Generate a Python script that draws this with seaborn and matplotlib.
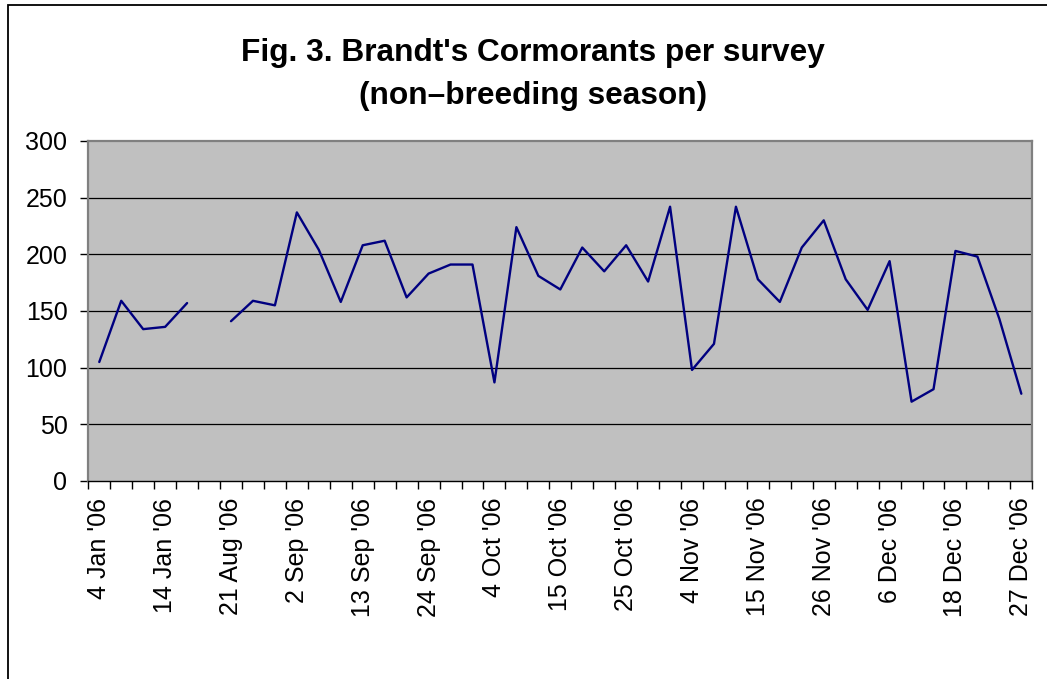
import numpy as np
import pandas as pd
import matplotlib
matplotlib.use("Agg")
import matplotlib.pyplot as plt
from matplotlib.patches import Rectangle
import seaborn as sns

# Brandt's Cormorant counts, one per survey (None = no survey data)
counts = [105, 159, 134, 136, 157, None, 141, 159, 155, 237, 204, 158, 208,
          212, 162, 183, 191, 191, 87, 224, 181, 169, 206, 185, 208, 176,
          242, 98, 121, 242, 178, 158, 206, 230, 178, 151, 194, 70, 81,
          203, 198, 143, 77]

# Survey dates labelled on the category axis (every third survey)
tick_labels = ["4 Jan '06", "14 Jan '06", "21 Aug '06", "2 Sep '06",
               "13 Sep '06", "24 Sep '06", "4 Oct '06", "15 Oct '06",
               "25 Oct '06", "4 Nov '06", "15 Nov '06", "26 Nov '06",
               "6 Dec '06", "18 Dec '06", "27 Dec '06"]
label_step = 3

y_ticks = [0, 50, 100, 150, 200, 250, 300]

sns.set_style("white")
plt.rcParams["font.family"] = ["Liberation Sans", "DejaVu Sans"]
plt.rcParams["text.color"] = "black"
plt.rcParams["xtick.color"] = "black"
plt.rcParams["ytick.color"] = "black"
plt.rcParams["xtick.labelcolor"] = "black"
plt.rcParams["ytick.labelcolor"] = "black"

W, H = 1047, 679
fig = plt.figure(figsize=(W / 100, H / 100), dpi=100)
fig.patch.set_facecolor("white")

# outer chart frame
fig.add_artist(Rectangle((7.5 / W, -0.1), 1.2, 1 - 5.0 / H + 0.1,
                         transform=fig.transFigure, fill=False,
                         edgecolor="black", linewidth=1.3, zorder=0))

x0, x1 = 88.3, 1032.3
y_top, y_bot = 141.0, 481.0
ax = fig.add_axes([x0 / W, (H - y_bot) / H, (x1 - x0) / W, (y_bot - y_top) / H])
ax.set_facecolor("#C0C0C0")

df = pd.DataFrame({"survey": np.arange(len(counts)),
                   "count": pd.array(counts, dtype="Float64").astype(float)})
# break the line where a survey is missing
df["segment"] = df["count"].isna().cumsum()
df = df.dropna()

sns.lineplot(data=df, x="survey", y="count", units="segment", estimator=None,
             color="#000080", linewidth=1.7, ax=ax, legend=False, zorder=3)

ax.set_xlim(-0.5, len(counts) - 0.5)
ax.set_ylim(0, 300)

# y axis
ax.set_yticks(y_ticks)
ax.set_yticklabels([str(v) for v in y_ticks])
for v in y_ticks[1:-1]:
    ax.axhline(v, color="black", linewidth=0.9, zorder=1)

# category axis: tick marks at boundaries, labels at every third centre
ax.set_xticks(np.arange(-0.5, len(counts), 1.0), minor=True)
ax.set_xticks(np.arange(0, len(counts), label_step))
ax.set_xticklabels(tick_labels, rotation=90)

ax.tick_params(axis="y", which="major", direction="out", length=6,
               width=1, color="black", pad=9.0, labelsize=18, left=True)
ax.tick_params(axis="x", which="major", length=0, pad=12.0, labelsize=18,
               bottom=True)
ax.tick_params(axis="x", which="minor", direction="out", length=5.5,
               width=1, color="black", bottom=True)

ax.set_xlabel("")
ax.set_ylabel("")

for side in ("top", "right", "left"):
    ax.spines[side].set_color("#808080")
    ax.spines[side].set_linewidth(1.6)
ax.spines["bottom"].set_color("black")
ax.spines["bottom"].set_linewidth(1.0)

fig.text(533 / W, 1 - 53 / H, "Fig. 3. Brandt's Cormorants per survey",
         ha="center", va="center", fontsize=22.8, fontweight="bold",
         color="black")
fig.text(533 / W, 1 - 96 / H, "(non\u2013breeding season)",
         ha="center", va="center", fontsize=22.8, fontweight="bold",
         color="black")

fig.savefig("out.png", dpi=100)
